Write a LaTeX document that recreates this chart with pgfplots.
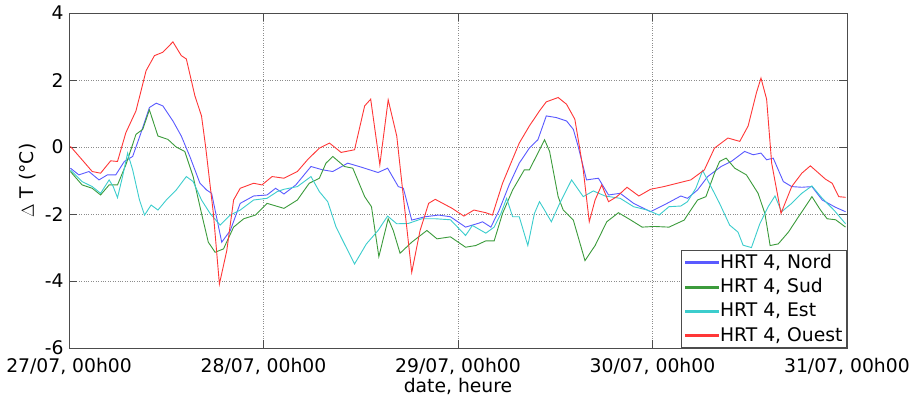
\documentclass[border=0pt]{standalone}
\usepackage{pgfplots}
\pgfplotsset{compat=1.18}
\usepackage{fontspec}
\setmainfont{DejaVu Sans}
\definecolor{cNord}{RGB}{90,90,255}
\definecolor{cSud}{RGB}{60,155,60}
\definecolor{cEst}{RGB}{60,205,205}
\definecolor{cOuest}{RGB}{255,55,55}
\begin{document}
\fontsize{18.6}{22}\selectfont
\begin{tikzpicture}
\begin{axis}[
  /pgf/number format/assume math mode=true,
  scale only axis,
  width=771pt, height=332pt,
  xmin=0, xmax=4, ymin=-6, ymax=4,
  xtick={0,1,2,3,4},
  xticklabels={{27/07, 00h00},{28/07, 00h00},{29/07, 00h00},{30/07, 00h00},{31/07, 00h00}},
  ytick={-6,-4,-2,0,2,4},
  yticklabels={-6,-4,-2,0,2,4},
  tick align=inside,
  major tick length=8pt,
  tick style={black!70, line width=0.8pt},
  axis line style={black!70, line width=0.8pt},
  xmajorgrids, ymajorgrids,
  grid style={black!45, dotted, line width=0.7pt},
  xlabel={date, heure},
  ylabel={$\Delta$ T (°C)},
  xlabel style={yshift=9pt},
  ylabel style={yshift=-4pt},
  xticklabel style={yshift=-4pt},
  yticklabel style={xshift=1pt},
  legend cell align=left,
  legend style={at={(rel axis cs:1,0)}, anchor=south east,
    draw=black!70, line width=0.8pt, fill=white,
    inner xsep=3pt, inner ysep=2.5pt, row sep=5.5pt,
    nodes={inner xsep=1pt, inner ysep=1pt}},
  legend image code/.code={\fill[#1] (0pt,-0.9pt) rectangle (33pt,0.9pt);},
]
% Nord
\addplot[color=cNord, line width=0.9pt] coordinates {
(0.007,-0.63)(0.050,-0.83)(0.102,-0.73)(0.154,-0.98)(0.197,-0.83)(0.240,-0.83)
(0.284,-0.43)(0.327,-0.28)(0.370,0.43)(0.413,1.18)(0.448,1.31)(0.482,1.23)
(0.534,0.78)(0.577,0.33)(0.621,-0.28)(0.673,-1.08)(0.707,-1.28)(0.733,-1.38)
(0.785,-2.84)(0.829,-2.49)(0.880,-1.68)(0.949,-1.46)(1.018,-1.43)(1.062,-1.23)
(1.105,-1.40)(1.166,-1.13)(1.244,-0.58)(1.304,-0.68)(1.356,-0.73)(1.433,-0.48)
(1.503,-0.60)(1.589,-0.76)(1.638,-0.63)(1.693,-1.18)(1.719,-1.23)(1.762,-2.18)
(1.831,-2.08)(1.900,-2.03)(1.961,-2.08)(2.039,-2.39)(2.108,-2.27)(2.126,-2.23)
(2.169,-2.39)(2.212,-1.88)(2.263,-1.13)(2.315,-0.48)(2.367,-0.03)(2.411,0.22)
(2.454,0.93)(2.506,0.88)(2.558,0.78)(2.593,0.53)(2.618,0.02)(2.661,-0.98)
(2.722,-0.93)(2.774,-1.43)(2.834,-1.38)(2.903,-1.68)(2.990,-1.93)(3.059,-1.73)
(3.146,-1.46)(3.180,-1.53)(3.232,-1.28)(3.284,-0.88)(3.353,-0.58)(3.405,-0.43)
(3.474,-0.13)(3.518,-0.23)(3.558,-0.18)(3.587,-0.38)(3.621,-0.33)(3.673,-1.03)
(3.716,-1.18)(3.768,-1.20)(3.820,-1.18)(3.873,-1.58)(3.942,-1.80)(3.993,-1.93)
};
\addlegendentry{HRT 4, Nord}
% Sud
\addplot[color=cSud, line width=0.9pt] coordinates {
(0.007,-0.73)(0.067,-1.13)(0.119,-1.23)(0.162,-1.43)(0.206,-1.13)(0.249,-1.13)
(0.292,-0.53)(0.344,0.38)(0.379,0.53)(0.413,1.11)(0.457,0.33)(0.508,0.23)
(0.551,0.00)(0.595,-0.13)(0.638,-0.88)(0.681,-1.98)(0.716,-2.84)(0.751,-3.14)
(0.794,-3.04)(0.846,-2.39)(0.898,-2.14)(0.958,-2.03)(1.018,-1.68)(1.105,-1.83)
(1.174,-1.58)(1.235,-1.08)(1.287,-0.93)(1.321,-0.48)(1.356,-0.28)(1.416,-0.58)
(1.459,-0.63)(1.520,-1.48)(1.555,-1.78)(1.593,-3.27)(1.641,-2.14)(1.667,-2.49)
(1.702,-3.17)(1.762,-2.84)(1.840,-2.49)(1.892,-2.74)(1.961,-2.68)(2.039,-2.99)
(2.091,-2.94)(2.143,-2.80)(2.186,-2.80)(2.229,-1.98)(2.281,-1.28)(2.341,-0.68)
(2.367,-0.68)(2.402,-0.28)(2.445,0.22)(2.471,-0.13)(2.515,-1.48)(2.541,-1.88)
(2.593,-2.18)(2.653,-3.39)(2.705,-2.94)(2.765,-2.23)(2.825,-1.96)(2.886,-2.17)
(2.947,-2.39)(3.008,-2.37)(3.085,-2.39)(3.163,-2.18)(3.197,-1.88)(3.232,-1.58)
(3.275,-1.48)(3.319,-0.78)(3.345,-0.43)(3.379,-0.33)(3.423,-0.63)(3.483,-0.83)
(3.543,-1.38)(3.578,-1.98)(3.605,-2.94)(3.647,-2.89)(3.699,-2.54)(3.751,-2.08)
(3.786,-1.78)(3.820,-1.48)(3.864,-1.88)(3.898,-2.14)(3.942,-2.17)(3.993,-2.39)
};
\addlegendentry{HRT 4, Sud}
% Est
\addplot[color=cEst, line width=0.9pt] coordinates {
(0.007,-0.68)(0.067,-1.03)(0.119,-1.18)(0.162,-1.38)(0.206,-0.98)(0.227,-1.18)
(0.249,-1.51)(0.275,-0.88)(0.301,-0.18)(0.327,-0.68)(0.362,-1.58)(0.388,-2.03)
(0.422,-1.73)(0.457,-1.88)(0.500,-1.58)(0.551,-1.28)(0.603,-0.88)(0.638,-1.03)
(0.681,-1.58)(0.725,-1.98)(0.777,-2.33)(0.829,-2.03)(0.880,-1.88)(0.949,-1.58)
(1.018,-1.53)(1.070,-1.33)(1.105,-1.26)(1.174,-1.18)(1.244,-0.88)(1.287,-1.33)
(1.330,-1.63)(1.373,-2.39)(1.416,-2.89)(1.468,-3.49)(1.529,-2.89)(1.589,-2.49)
(1.638,-2.06)(1.685,-2.29)(1.745,-2.28)(1.814,-2.14)(1.883,-2.14)(1.961,-2.17)
(2.039,-2.64)(2.074,-2.34)(2.143,-2.57)(2.186,-2.39)(2.221,-1.98)(2.250,-1.53)
(2.281,-2.08)(2.315,-2.08)(2.359,-2.94)(2.393,-1.98)(2.419,-1.63)(2.445,-1.88)
(2.480,-2.23)(2.523,-1.68)(2.584,-0.98)(2.644,-1.48)(2.696,-1.31)(2.756,-1.46)
(2.834,-1.53)(2.903,-1.78)(2.973,-1.88)(3.034,-2.03)(3.085,-1.78)(3.146,-1.76)
(3.180,-1.63)(3.223,-1.23)(3.258,-0.70)(3.301,-1.18)(3.345,-1.68)(3.397,-2.33)
(3.440,-2.54)(3.466,-2.93)(3.509,-3.0)(3.552,-2.29)(3.595,-1.78)(3.630,-1.46)
(3.664,-1.93)(3.716,-1.68)(3.768,-1.38)(3.820,-1.16)(3.873,-1.53)(3.933,-1.88)
(3.993,-2.29)
};
\addlegendentry{HRT 4, Est}
% Ouest
\addplot[color=cOuest, line width=0.9pt] coordinates {
(0.007,0.02)(0.067,-0.38)(0.119,-0.73)(0.162,-0.78)(0.214,-0.41)(0.249,-0.43)
(0.292,0.43)(0.344,1.08)(0.396,2.28)(0.439,2.73)(0.482,2.83)(0.534,3.14)
(0.577,2.73)(0.603,2.63)(0.647,1.53)(0.681,0.93)(0.702,0.02)(0.742,-1.98)
(0.773,-4.09)(0.811,-3.09)(0.846,-1.58)(0.880,-1.23)(0.949,-1.08)(0.992,-1.13)
(1.044,-0.88)(1.105,-0.93)(1.174,-0.73)(1.226,-0.38)(1.287,-0.03)(1.339,0.12)
(1.399,-0.16)(1.468,-0.08)(1.520,1.23)(1.551,1.43)(1.598,-0.53)(1.641,1.41)
(1.685,0.33)(1.719,-1.48)(1.762,-3.74)(1.805,-2.49)(1.849,-1.68)(1.883,-1.56)
(1.970,-1.83)(2.030,-2.06)(2.082,-1.88)(2.143,-1.96)(2.177,-2.03)(2.229,-1.08)
(2.315,0.12)(2.367,0.63)(2.419,1.08)(2.454,1.35)(2.515,1.48)(2.558,1.28)
(2.601,0.83)(2.644,-0.68)(2.675,-2.23)(2.705,-1.58)(2.739,-1.13)(2.774,-1.63)
(2.817,-1.48)(2.869,-1.20)(2.930,-1.46)(2.990,-1.26)(3.059,-1.18)(3.128,-1.08)
(3.197,-0.98)(3.267,-0.68)(3.319,-0.03)(3.388,0.27)(3.449,0.17)(3.492,0.63)
(3.535,1.63)(3.558,2.06)(3.587,1.43)(3.613,-0.48)(3.661,-1.98)(3.716,-1.18)
(3.768,-0.78)(3.812,-0.56)(3.855,-0.78)(3.890,-0.96)(3.924,-1.08)(3.958,-1.48)
(3.993,-1.50)
};
\addlegendentry{HRT 4, Ouest}
\end{axis}
\end{tikzpicture}
\end{document}
